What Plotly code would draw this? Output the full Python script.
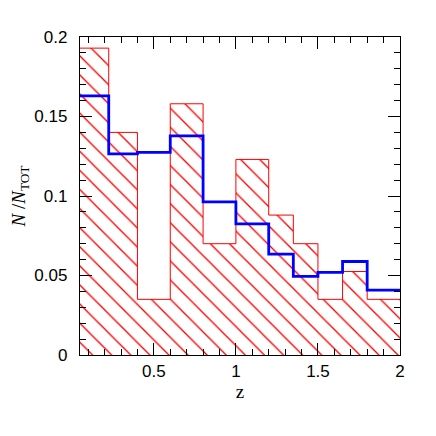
import plotly.graph_objects as go
import numpy as np

# redshift bin edges
bin_edges = [0.05, 0.225, 0.4, 0.6, 0.8, 1.0, 1.2, 1.35, 1.5, 1.65, 1.8, 2.0]
# red hatched histogram (fraction of total)
red_frac = [0.193, 0.140, 0.035, 0.158, 0.070, 0.123, 0.088, 0.070, 0.035, 0.0525, 0.035]
# blue step histogram
blue_frac = [0.163, 0.1265, 0.1275, 0.1378, 0.0963, 0.0825, 0.0635, 0.0495, 0.052, 0.0588, 0.0408]

edges = np.array(bin_edges)
centers = (edges[:-1] + edges[1:]) / 2
widths = np.diff(edges)

fig = go.Figure()

# hatched fill
fig.add_trace(go.Bar(
    x=centers, y=red_frac, width=widths,
    marker=dict(color='rgba(0,0,0,0)', line=dict(width=0),
                pattern=dict(shape='\\', fgcolor='#ff0000', fgopacity=1, bgcolor='rgba(0,0,0,0)',
                             size=13.5, solidity=0.1, fillmode='overlay')),
    showlegend=False, hoverinfo='skip'
))

# red outline (step)
fig.add_trace(go.Scatter(
    x=bin_edges, y=red_frac + [red_frac[-1]],
    mode='lines', line=dict(color='#ff0000', width=1, shape='hv'),
    showlegend=False
))

# blue step
fig.add_trace(go.Scatter(
    x=bin_edges, y=blue_frac + [blue_frac[-1]],
    mode='lines', line=dict(color='#0000ff', width=2.8, shape='hv'),
    showlegend=False
))

axis_common = dict(
    showgrid=False, zeroline=False, showline=True, linecolor='black', linewidth=1.3,
    mirror='ticks', ticks='inside', ticklen=12, tickwidth=1.2, tickcolor='black',
    automargin=False,
    tickfont=dict(family='Liberation Sans, Arial, sans-serif', size=17, color='black'),
)

# page body adds an 8px offset, so the figure is a bit smaller than the window
fig.update_layout(
    width=420, height=420,
    margin=dict(l=72, r=28, t=29, b=73),
    plot_bgcolor='white', paper_bgcolor='white',
    bargap=0,
    xaxis=dict(
        range=[0.05, 2.0], tick0=0, dtick=0.5,
        minor=dict(dtick=0.1, ticks='inside', ticklen=6, tickcolor='black', tickwidth=1.2),
        ticklabelstandoff=0,
        title=dict(text='z', font=dict(family='Liberation Serif, Times New Roman, serif', size=19, color='black'),
                   standoff=0),
        **axis_common
    ),
    yaxis=dict(
        range=[0, 0.2], tick0=0, dtick=0.05,
        minor=dict(dtick=0.01, ticks='inside', ticklen=6, tickcolor='black', tickwidth=1.2),
        ticklabelstandoff=8,
        title=dict(text='<i>N</i> /<i>N</i><sub>TOT</sub>',
                   font=dict(family='Liberation Serif, Times New Roman, serif', size=19, color='black'),
                   standoff=4),
        **axis_common
    ),
)

fig.write_html("out.html")
